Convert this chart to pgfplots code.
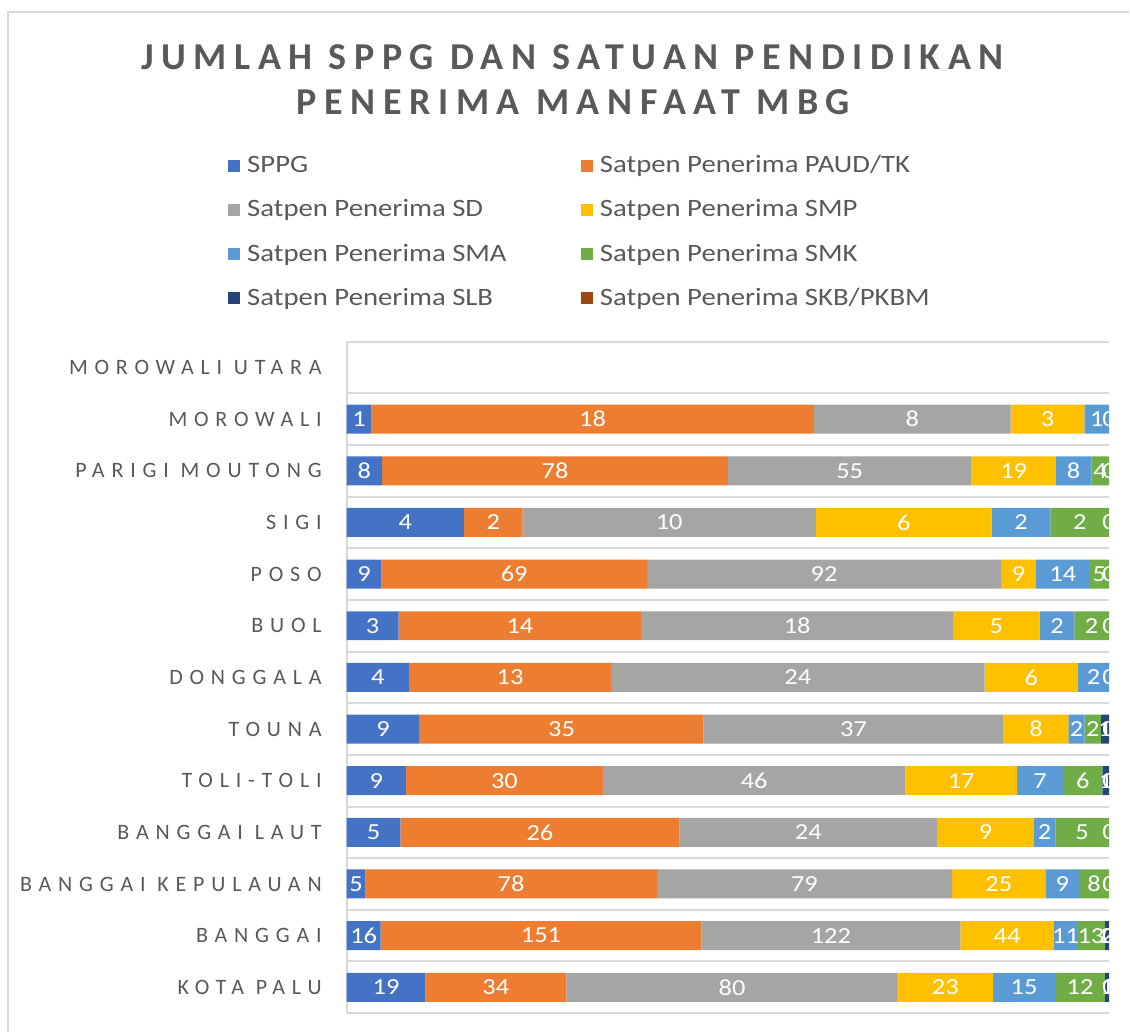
\documentclass[border=0pt]{standalone}
\usepackage{fontspec}
\setmainfont{Carlito}
\newfontfamily\legfont[FakeStretch=1.15]{Carlito}
\newfontfamily\ylabfont[LetterSpace=31]{Carlito}
\newfontfamily\titlefont[LetterSpace=20]{Carlito}
\usepackage{pgfplots}
\usepackage{pgfplotstable}
\pgfplotsset{compat=1.18}
\definecolor{cSPPG}{HTML}{4472C4}
\definecolor{cPAUD}{HTML}{ED7D31}
\definecolor{cSD}{HTML}{A5A5A5}
\definecolor{cSMP}{HTML}{FFC000}
\definecolor{cSMA}{HTML}{5B9BD5}
\definecolor{cSMK}{HTML}{70AD47}
\definecolor{cSLB}{HTML}{264478}
\definecolor{cSKB}{HTML}{9E480E}
\definecolor{ctext}{HTML}{595959}
\definecolor{cgrid}{HTML}{D9D9D9}
% Y: 0 = Kota Palu (bottom) ... 11 = Morowali; Morowali Utara (12) has no data
\pgfplotstableread{
Y SPPG PAUD SD SMP SMA SMK SLB SKB T
0 19 34 80 23 15 12 1 0 184
1 16 151 122 44 11 13 2 0 359
2 5 78 79 25 9 8 0 0 204
3 5 26 24 9 2 5 0 0 71
4 9 30 46 17 7 6 1 0 116
5 9 35 37 8 2 2 1 0 94
6 4 13 24 6 2 0 0 0 49
7 3 14 18 5 2 2 0 0 44
8 9 69 92 9 14 5 0 0 198
9 4 2 10 6 2 2 0 0 26
10 8 78 55 19 8 4 0 0 172
11 1 18 8 3 1 0 0 0 31
}\datatable
\pgfplotsset{
  commonaxis/.style={
    at={(173.5pt,9.5pt)}, anchor=south west,
    scale only axis, width=381.5pt, height=336pt,
    xmin=0, xmax=100, ymin=-0.5, ymax=12.5,
  },
  lab/.style={draw=none, mark=none, nodes near coords, point meta=explicit,
    /pgf/number format/assume math mode=true,
    every node near coord/.append style={anchor=center, text=white,
      font=\legfont\fontsize{11.5}{12}\selectfont, inner sep=0pt}},
}
\begin{document}
\begin{tikzpicture}
\path (0,0) rectangle (565pt,516.5pt);
\draw[cgrid, line width=1pt] (4pt,0) -- (4pt,510.5pt) -- (565pt,510.5pt);
\node[font=\titlefont\bfseries\fontsize{19}{22}\selectfont, text=ctext] at (286.5pt,488pt) {JUMLAH SPPG DAN SATUAN PENDIDIKAN};
\node[font=\titlefont\bfseries\fontsize{19}{22}\selectfont, text=ctext] at (287pt,465.5pt) {PENERIMA MANFAAT MBG};
\begin{axis}[commonaxis,
  xbar stacked, bar width=14.5pt,
  axis x line=none, axis y line*=left,
  y axis line style={cgrid, line width=1pt},
  ytick={0,...,12},
  yticklabels={KOTA PALU, BANGGAI, BANGGAI KEPULAUAN, BANGGAI LAUT, TOLI-TOLI, TOUNA, DONGGALA, BUOL, POSO, SIGI, PARIGI MOUTONG, MOROWALI, MOROWALI UTARA},
  yticklabel style={font=\ylabfont\fontsize{11}{12}\selectfont, text=ctext, anchor=east, xshift=-9pt},
  minor ytick={-0.5,0.5,...,12.5},
  yminorgrids=true, minor grid style={cgrid, line width=1pt},
  major tick length=0pt, minor tick length=0pt,
  legend columns=2,
  legend cell align=left,
  legend image code/.code={\fill[#1] (0pt,-3pt) rectangle (6pt,3pt);},
  legend style={draw=none, fill=none, at={(axis description cs:-0.164,1.29)}, anchor=north west,
    font=\legfont\fontsize{12.5}{14}\selectfont, text=ctext,
    row sep=8pt,
    nodes={inner xsep=3.6pt},
    /tikz/every even column/.append style={column sep=33.5pt}},
]
\addplot[fill=cSPPG, draw=none] table[x expr=\thisrow{SPPG}/\thisrow{T}*100, y=Y]{\datatable};
\addlegendentry{SPPG}
\addplot[fill=cPAUD, draw=none] table[x expr=\thisrow{PAUD}/\thisrow{T}*100, y=Y]{\datatable};
\addlegendentry{Satpen Penerima PAUD/TK}
\addplot[fill=cSD, draw=none] table[x expr=\thisrow{SD}/\thisrow{T}*100, y=Y]{\datatable};
\addlegendentry{Satpen Penerima SD}
\addplot[fill=cSMP, draw=none] table[x expr=\thisrow{SMP}/\thisrow{T}*100, y=Y]{\datatable};
\addlegendentry{Satpen Penerima SMP}
\addplot[fill=cSMA, draw=none] table[x expr=\thisrow{SMA}/\thisrow{T}*100, y=Y]{\datatable};
\addlegendentry{Satpen Penerima SMA}
\addplot[fill=cSMK, draw=none] table[x expr=\thisrow{SMK}/\thisrow{T}*100, y=Y]{\datatable};
\addlegendentry{Satpen Penerima SMK}
\addplot[fill=cSLB, draw=none] table[x expr=\thisrow{SLB}/\thisrow{T}*100, y=Y]{\datatable};
\addlegendentry{Satpen Penerima SLB}
\addplot[fill=cSKB, draw=none] table[x expr=\thisrow{SKB}/\thisrow{T}*100, y=Y]{\datatable};
\addlegendentry{Satpen Penerima SKB/PKBM}
\end{axis}
\begin{scope}
\clip (0,0) rectangle (555pt,516.5pt);
\begin{axis}[commonaxis, hide axis]
\addplot[lab, restrict expr to domain={\thisrow{SPPG}}{0.5:1000}] table[x expr=0.5*\thisrow{SPPG}/\thisrow{T}*100, y=Y, meta=SPPG]{\datatable};
\addplot[lab, restrict expr to domain={\thisrow{PAUD}}{0.5:1000}] table[x expr=(\thisrow{SPPG}+0.5*\thisrow{PAUD})/\thisrow{T}*100, y=Y, meta=PAUD]{\datatable};
\addplot[lab, restrict expr to domain={\thisrow{SD}}{0.5:1000}] table[x expr=(\thisrow{SPPG}+\thisrow{PAUD}+0.5*\thisrow{SD})/\thisrow{T}*100, y=Y, meta=SD]{\datatable};
\addplot[lab, restrict expr to domain={\thisrow{SMP}}{0.5:1000}] table[x expr=(\thisrow{SPPG}+\thisrow{PAUD}+\thisrow{SD}+0.5*\thisrow{SMP})/\thisrow{T}*100, y=Y, meta=SMP]{\datatable};
\addplot[lab, restrict expr to domain={\thisrow{SMA}}{0.5:1000}] table[x expr=(\thisrow{SPPG}+\thisrow{PAUD}+\thisrow{SD}+\thisrow{SMP}+0.5*\thisrow{SMA})/\thisrow{T}*100, y=Y, meta=SMA]{\datatable};
\addplot[lab, restrict expr to domain={\thisrow{SMK}}{0.5:1000}] table[x expr=(\thisrow{SPPG}+\thisrow{PAUD}+\thisrow{SD}+\thisrow{SMP}+\thisrow{SMA}+0.5*\thisrow{SMK})/\thisrow{T}*100, y=Y, meta=SMK]{\datatable};
\addplot[lab, restrict expr to domain={\thisrow{SLB}}{0.5:1000}] table[x expr=(\thisrow{SPPG}+\thisrow{PAUD}+\thisrow{SD}+\thisrow{SMP}+\thisrow{SMA}+\thisrow{SMK}+0.5*\thisrow{SLB})/\thisrow{T}*100, y=Y, meta=SLB]{\datatable};
% zero-valued labels sit at the end of each bar and are cut by the chart's right edge
\addplot[lab] table[x expr=100, y=Y, meta=SKB]{\datatable};
\end{axis}
\end{scope}
\end{tikzpicture}
\end{document}
